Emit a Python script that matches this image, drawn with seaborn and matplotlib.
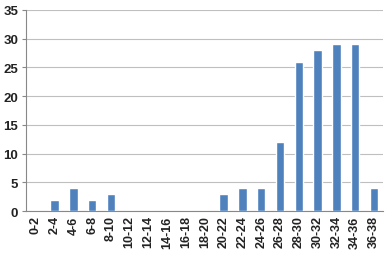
import pandas as pd
import matplotlib.pyplot as plt
import seaborn as sns

# histogram-like bins and counts
bins = ['0-2', '2-4', '4-6', '6-8', '8-10', '10-12', '12-14', '14-16', '16-18', '18-20',
        '20-22', '22-24', '24-26', '26-28', '28-30', '30-32', '32-34', '34-36', '36-38']
counts = [0, 2, 4, 2, 3, 0, 0, 0, 0, 0, 3, 4, 4, 12, 26, 28, 29, 29, 4]

df = pd.DataFrame({'bin': bins, 'count': counts})

sns.set_style('white')
plt.rcParams['font.family'] = ['Liberation Sans', 'DejaVu Sans']

fig = plt.figure(figsize=(3.88, 2.55), dpi=100)
ax = fig.add_axes([0.068, 0.168, 0.920, 0.789])

sns.barplot(data=df, x='bin', y='count', color='#4F81BD', saturation=1, width=0.45, ax=ax, zorder=3)

ax.set_ylim(0, 35)
ax.set_yticks(range(0, 36, 5))
ax.set_xlim(-0.5, len(bins) - 0.5)
ax.yaxis.grid(True, color='#BFBFBF', linewidth=0.8, zorder=0)
ax.set_axisbelow(True)

for s in ['top', 'right']:
    ax.spines[s].set_visible(False)
for s in ['left', 'bottom']:
    ax.spines[s].set_color('#888888')
    ax.spines[s].set_linewidth(0.8)

ax.set_xlabel('')
ax.set_ylabel('')
ax.tick_params(axis='x', rotation=90, labelsize=9, length=0, pad=3)
ax.tick_params(axis='y', labelsize=9.5, length=3, color='#888888', width=0.8, left=True, pad=3)
for lab in ax.get_xticklabels() + ax.get_yticklabels():
    lab.set_fontweight('bold')
    lab.set_color('#222222')

# small tick marks between categories, like the original
ax.set_xticks([i + 0.5 for i in range(-1, len(bins))], minor=True)
ax.tick_params(axis='x', which='minor', length=3, color='#888888', width=0.8)

fig.savefig('out.png', dpi=100)
